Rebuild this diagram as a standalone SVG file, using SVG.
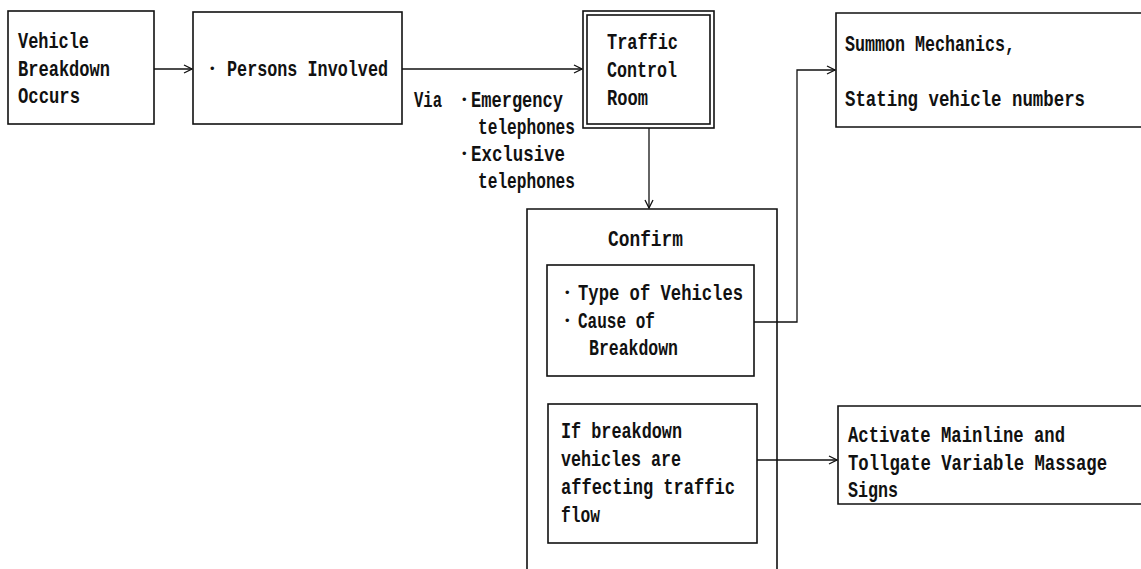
<svg xmlns="http://www.w3.org/2000/svg" width="1141" height="569" viewBox="0 0 1141 569">
<style>
.box{fill:none;stroke:#111;stroke-width:1.6}
.t{font-family:"Liberation Mono","DejaVu Sans Mono",monospace;font-size:22px;font-weight:bold;fill:#111}
.b{font-family:"Liberation Sans",Arial,sans-serif;font-size:13px;fill:#111}
.c{fill:none;stroke:#111;stroke-width:1.3}
</style>
<defs>
<marker id="arr" markerWidth="10" markerHeight="10" refX="9" refY="5" orient="auto" markerUnits="userSpaceOnUse">
<path d="M1,1 L9,5 L1,9" fill="none" stroke="#111" stroke-width="1.3"/>
</marker>
</defs>
<rect width="1141" height="569" fill="#fff"/>
<g id="connectors">
<line class="c" x1="154" y1="69" x2="192" y2="69" marker-end="url(#arr)"/>
<line class="c" x1="402" y1="69" x2="582" y2="69" marker-end="url(#arr)"/>
<line class="c" x1="649" y1="128" x2="649" y2="208" marker-end="url(#arr)"/>
<polyline class="c" points="754,322 797,322 797,70 835,70" marker-end="url(#arr)"/>
<line class="c" x1="757" y1="460" x2="837" y2="460" marker-end="url(#arr)"/>
</g>
<g id="via-label">
<text class="t" x="414" y="107" textLength="28" lengthAdjust="spacingAndGlyphs">Via</text>
<text class="b" x="462" y="104">•</text>
<text class="t" x="471" y="107" textLength="92" lengthAdjust="spacingAndGlyphs">Emergency</text>
<text class="t" x="478" y="134" textLength="97" lengthAdjust="spacingAndGlyphs">telephones</text>
<text class="b" x="462" y="158">•</text>
<text class="t" x="471" y="161" textLength="94" lengthAdjust="spacingAndGlyphs">Exclusive</text>
<text class="t" x="478" y="188" textLength="97" lengthAdjust="spacingAndGlyphs">telephones</text>
</g>
<g id="vehicle-breakdown">
<rect class="box" x="8" y="11" width="146" height="113"/>
<text class="t" x="18" y="48" textLength="71" lengthAdjust="spacingAndGlyphs">Vehicle</text>
<text class="t" x="18" y="76" textLength="92" lengthAdjust="spacingAndGlyphs">Breakdown</text>
<text class="t" x="18" y="103" textLength="62" lengthAdjust="spacingAndGlyphs">Occurs</text>
</g>
<g id="persons-involved">
<rect class="box" x="193" y="12" width="209" height="112"/>
<text class="b" x="210" y="73">•</text>
<text class="t" x="227" y="76" textLength="161" lengthAdjust="spacingAndGlyphs">Persons Involved</text>
</g>
<g id="traffic-control-room">
<rect class="box" x="583" y="11" width="131" height="117"/>
<rect class="box" x="587" y="15" width="123" height="109"/>
<text class="t" x="607" y="49" textLength="71" lengthAdjust="spacingAndGlyphs">Traffic</text>
<text class="t" x="607" y="77" textLength="70" lengthAdjust="spacingAndGlyphs">Control</text>
<text class="t" x="607" y="105" textLength="41" lengthAdjust="spacingAndGlyphs">Room</text>
</g>
<g id="summon-mechanics">
<path class="box" d="M1141,13 H836 V127 H1141"/>
<text class="t" x="845" y="51" textLength="170" lengthAdjust="spacingAndGlyphs">Summon Mechanics,</text>
<text class="t" x="845" y="106" textLength="240" lengthAdjust="spacingAndGlyphs">Stating vehicle numbers</text>
</g>
<g id="confirm">
<path class="box" d="M527,569 V209 H777 V569"/>
<text class="t" x="608" y="246" textLength="75" lengthAdjust="spacingAndGlyphs">Confirm</text>
</g>
<g id="confirm-items">
<rect class="box" x="547" y="265" width="207" height="111"/>
<text class="b" x="565" y="297">•</text>
<text class="t" x="578" y="300" textLength="165" lengthAdjust="spacingAndGlyphs">Type of Vehicles</text>
<text class="b" x="565" y="325">•</text>
<text class="t" x="578" y="328" textLength="77" lengthAdjust="spacingAndGlyphs">Cause of</text>
<text class="t" x="589" y="355" textLength="89" lengthAdjust="spacingAndGlyphs">Breakdown</text>
</g>
<g id="confirm-condition">
<rect class="box" x="548" y="404" width="209" height="139"/>
<text class="t" x="561" y="438" textLength="121" lengthAdjust="spacingAndGlyphs">If breakdown</text>
<text class="t" x="561" y="466" textLength="120" lengthAdjust="spacingAndGlyphs">vehicles are</text>
<text class="t" x="561" y="494" textLength="174" lengthAdjust="spacingAndGlyphs">affecting traffic</text>
<text class="t" x="561" y="522" textLength="39" lengthAdjust="spacingAndGlyphs">flow</text>
</g>
<g id="activate-signs">
<path class="box" d="M1141,406 H838 V504 H1141"/>
<text class="t" x="848" y="442" textLength="217" lengthAdjust="spacingAndGlyphs">Activate Mainline and</text>
<text class="t" x="848" y="470" textLength="259" lengthAdjust="spacingAndGlyphs">Tollgate Variable Massage</text>
<text class="t" x="848" y="497" textLength="50" lengthAdjust="spacingAndGlyphs">Signs</text>
</g>
</svg>
